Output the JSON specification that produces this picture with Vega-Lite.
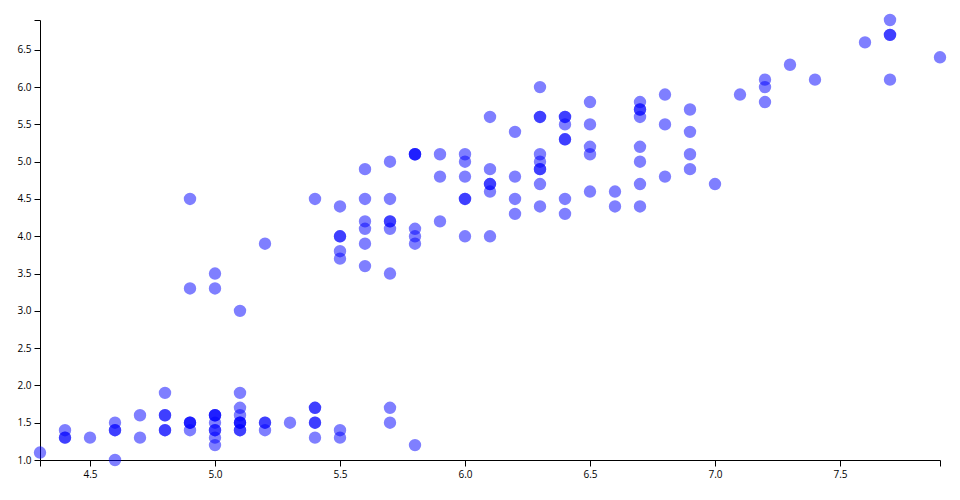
{
  "$schema": "https://vega.github.io/schema/vega-lite/v6.json",
  "autosize": "none",
  "width": 900,
  "height": 440,
  "padding": {"left": 40, "top": 20, "right": 20, "bottom": 40},
  "background": "white",
  "config": {"view": {"stroke": null}},
  "data": {"values": [
    {"sl":5.1,"pl":1.4},{"sl":4.9,"pl":1.4},{"sl":4.7,"pl":1.3},{"sl":4.6,"pl":1.5},{"sl":5.0,"pl":1.4},
    {"sl":5.4,"pl":1.7},{"sl":4.6,"pl":1.4},{"sl":5.0,"pl":1.5},{"sl":4.4,"pl":1.4},{"sl":4.9,"pl":1.5},
    {"sl":5.4,"pl":1.5},{"sl":4.8,"pl":1.6},{"sl":4.8,"pl":1.4},{"sl":4.3,"pl":1.1},{"sl":5.8,"pl":1.2},
    {"sl":5.7,"pl":1.5},{"sl":5.4,"pl":1.3},{"sl":5.1,"pl":1.4},{"sl":5.7,"pl":1.7},{"sl":5.1,"pl":1.5},
    {"sl":5.4,"pl":1.7},{"sl":5.1,"pl":1.5},{"sl":4.6,"pl":1.0},{"sl":5.1,"pl":1.7},{"sl":4.8,"pl":1.9},
    {"sl":5.0,"pl":1.6},{"sl":5.0,"pl":1.6},{"sl":5.2,"pl":1.5},{"sl":5.2,"pl":1.4},{"sl":4.7,"pl":1.6},
    {"sl":4.8,"pl":1.6},{"sl":5.4,"pl":1.5},{"sl":5.2,"pl":1.5},{"sl":5.5,"pl":1.4},{"sl":4.9,"pl":1.5},
    {"sl":5.0,"pl":1.2},{"sl":5.5,"pl":1.3},{"sl":4.9,"pl":1.5},{"sl":4.4,"pl":1.3},{"sl":5.1,"pl":1.5},
    {"sl":5.0,"pl":1.3},{"sl":4.5,"pl":1.3},{"sl":4.4,"pl":1.3},{"sl":5.0,"pl":1.6},{"sl":5.1,"pl":1.9},
    {"sl":4.8,"pl":1.4},{"sl":5.1,"pl":1.6},{"sl":4.6,"pl":1.4},{"sl":5.3,"pl":1.5},{"sl":5.0,"pl":1.4},
    {"sl":7.0,"pl":4.7},{"sl":6.4,"pl":4.5},{"sl":6.9,"pl":4.9},{"sl":5.5,"pl":4.0},{"sl":6.5,"pl":4.6},
    {"sl":5.7,"pl":4.5},{"sl":6.3,"pl":4.7},{"sl":4.9,"pl":3.3},{"sl":6.6,"pl":4.6},{"sl":5.2,"pl":3.9},
    {"sl":5.0,"pl":3.5},{"sl":5.9,"pl":4.2},{"sl":6.0,"pl":4.0},{"sl":6.1,"pl":4.7},{"sl":5.6,"pl":3.6},
    {"sl":6.7,"pl":4.4},{"sl":5.6,"pl":4.5},{"sl":5.8,"pl":4.1},{"sl":6.2,"pl":4.5},{"sl":5.6,"pl":3.9},
    {"sl":5.9,"pl":4.8},{"sl":6.1,"pl":4.0},{"sl":6.3,"pl":4.9},{"sl":6.1,"pl":4.7},{"sl":6.4,"pl":4.3},
    {"sl":6.6,"pl":4.4},{"sl":6.8,"pl":4.8},{"sl":6.7,"pl":5.0},{"sl":6.0,"pl":4.5},{"sl":5.7,"pl":3.5},
    {"sl":5.5,"pl":3.8},{"sl":5.5,"pl":3.7},{"sl":5.8,"pl":3.9},{"sl":6.0,"pl":5.1},{"sl":5.4,"pl":4.5},
    {"sl":6.0,"pl":4.5},{"sl":6.7,"pl":4.7},{"sl":6.3,"pl":4.4},{"sl":5.6,"pl":4.1},{"sl":5.5,"pl":4.0},
    {"sl":5.5,"pl":4.4},{"sl":6.1,"pl":4.6},{"sl":5.8,"pl":4.0},{"sl":5.0,"pl":3.3},{"sl":5.6,"pl":4.2},
    {"sl":5.7,"pl":4.2},{"sl":5.7,"pl":4.2},{"sl":6.2,"pl":4.3},{"sl":5.1,"pl":3.0},{"sl":5.7,"pl":4.1},
    {"sl":6.3,"pl":6.0},{"sl":5.8,"pl":5.1},{"sl":7.1,"pl":5.9},{"sl":6.3,"pl":5.6},{"sl":6.5,"pl":5.8},
    {"sl":7.6,"pl":6.6},{"sl":4.9,"pl":4.5},{"sl":7.3,"pl":6.3},{"sl":6.7,"pl":5.8},{"sl":7.2,"pl":6.1},
    {"sl":6.5,"pl":5.1},{"sl":6.4,"pl":5.3},{"sl":6.8,"pl":5.5},{"sl":5.7,"pl":5.0},{"sl":5.8,"pl":5.1},
    {"sl":6.4,"pl":5.3},{"sl":6.5,"pl":5.5},{"sl":7.7,"pl":6.7},{"sl":7.7,"pl":6.9},{"sl":6.0,"pl":5.0},
    {"sl":6.9,"pl":5.7},{"sl":5.6,"pl":4.9},{"sl":7.7,"pl":6.7},{"sl":6.3,"pl":4.9},{"sl":6.7,"pl":5.7},
    {"sl":7.2,"pl":6.0},{"sl":6.2,"pl":4.8},{"sl":6.1,"pl":4.9},{"sl":6.4,"pl":5.6},{"sl":7.2,"pl":5.8},
    {"sl":7.4,"pl":6.1},{"sl":7.9,"pl":6.4},{"sl":6.4,"pl":5.6},{"sl":6.3,"pl":5.1},{"sl":6.1,"pl":5.6},
    {"sl":7.7,"pl":6.1},{"sl":6.3,"pl":5.6},{"sl":6.4,"pl":5.5},{"sl":6.0,"pl":4.8},{"sl":6.9,"pl":5.4},
    {"sl":6.7,"pl":5.6},{"sl":6.9,"pl":5.1},{"sl":5.8,"pl":5.1},{"sl":6.8,"pl":5.9},{"sl":6.7,"pl":5.7},
    {"sl":6.7,"pl":5.2},{"sl":6.3,"pl":5.0},{"sl":6.5,"pl":5.2},{"sl":6.2,"pl":5.4},{"sl":5.9,"pl":5.1}
  ]},
  "mark": {"type": "circle", "color": "blue", "opacity": 0.5, "size": 154, "stroke": null},
  "encoding": {
    "x": {
      "field": "sl", "type": "quantitative",
      "scale": {"domain": [4.3, 7.9], "nice": false, "zero": false},
      "axis": {
        "title": null, "grid": false,
        "values": [4.3, 4.5, 5.0, 5.5, 6.0, 6.5, 7.0, 7.5, 7.9],
        "labelExpr": "datum.value == 4.3 || datum.value == 7.9 ? '' : format(datum.value, '.1f')",
        "tickSize": 6, "labelPadding": 3, "labelFontSize": 10, "labelFont": "Open Sans", "labelColor": "#000",
        "domainColor": "#000", "tickColor": "#000", "labelOverlap": false, "labelFlush": false, "labelBound": false
      }
    },
    "y": {
      "field": "pl", "type": "quantitative",
      "scale": {"domain": [1.0, 6.9], "nice": false, "zero": false},
      "axis": {
        "title": null, "grid": false,
        "values": [1.0, 1.5, 2.0, 2.5, 3.0, 3.5, 4.0, 4.5, 5.0, 5.5, 6.0, 6.5, 6.9],
        "labelExpr": "datum.value == 6.9 ? '' : format(datum.value, '.1f')",
        "tickSize": 6, "labelPadding": 3, "labelFontSize": 10, "labelFont": "Open Sans", "labelColor": "#000",
        "domainColor": "#000", "tickColor": "#000", "labelOverlap": false, "labelFlush": false, "labelBound": false
      }
    }
  }
}
